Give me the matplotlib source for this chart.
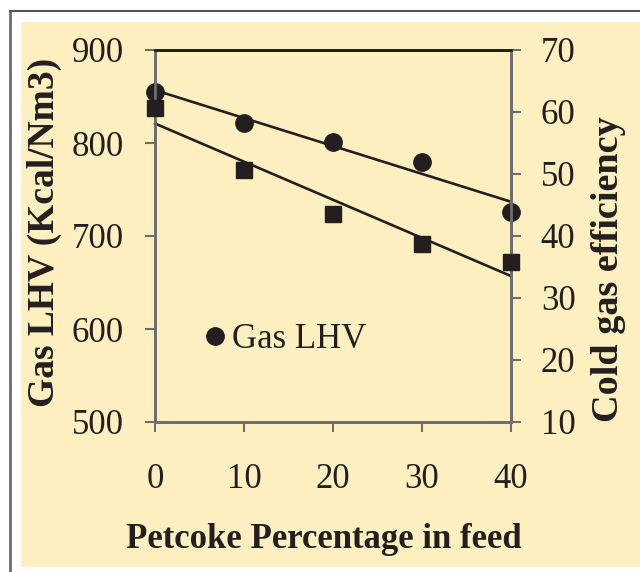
import matplotlib.pyplot as plt
from matplotlib.patches import Rectangle
from matplotlib.lines import Line2D
import numpy as np

# data
petcoke = [0, 10, 20, 30, 40]
gas_lhv = [855, 822, 801, 780, 726]          # Kcal/Nm3, left axis
cold_gas_eff = [60.6, 50.6, 43.5, 38.7, 35.8]  # right axis

x_ticks = [0, 10, 20, 30, 40]
lhv_ticks = [500, 600, 700, 800, 900]
eff_ticks = [10, 20, 30, 40, 50, 60, 70]

ink = "#231f20"
grey = "#6d6e71"
panel = "#fdefbf"

plt.rcParams["font.family"] = ["Liberation Serif", "DejaVu Serif"]

W, H = 640, 572
fig = plt.figure(figsize=(W / 100, H / 100), dpi=100, facecolor="white")

# outer frame and yellow panel (pixel coords -> figure fraction)
fig.patches.append(Rectangle((21 / W, 1 - 567 / H), (W - 21) / W, (567 - 22) / H,
                             transform=fig.transFigure, facecolor=panel,
                             edgecolor="none", zorder=-5))
fig.add_artist(Line2D([9.5 / W, 9.5 / W], [0, 1 - 11 / H], transform=fig.transFigure,
                      color=grey, lw=2, zorder=-5))
fig.add_artist(Line2D([9.5 / W, 1], [1 - 11 / H, 1 - 11 / H], transform=fig.transFigure,
                      color="#555555", lw=1.5, zorder=-5))

ax = fig.add_axes([155 / W, 1 - 422 / H, (511 - 155) / W, (422 - 50) / H])
ax.set_facecolor("none")
ax2 = ax.twinx()
ax2.set_facecolor("none")

# trend lines (least squares)
xl = np.array([petcoke[0], petcoke[-1]])
p1 = np.polyfit(petcoke, gas_lhv, 1)
p2 = np.polyfit(petcoke, cold_gas_eff, 1)
ax.plot(xl, np.polyval(p1, xl), color=ink, lw=1.9, clip_on=False)
ax2.plot(xl, np.polyval(p2, xl), color=ink, lw=1.9, clip_on=False)

ax.plot(petcoke, gas_lhv, "o", color=ink, ms=12.5, clip_on=False, zorder=5)
ax2.plot(petcoke, cold_gas_eff, "s", color=ink, ms=11.5, clip_on=False, zorder=5)

ax.set_xlim(0, 40)
ax.set_ylim(500, 900)
ax2.set_ylim(10, 70)
ax.set_xticks(x_ticks)
ax.set_yticks(lhv_ticks)
ax2.set_yticks(eff_ticks)

for a in (ax, ax2):
    for s in a.spines.values():
        s.set_color(grey)
        s.set_linewidth(2)
    a.spines["top"].set_color(ink)
ax.tick_params(axis="both", direction="out", length=7.5, width=1.5, color=grey,
               labelsize=25, labelcolor=ink)
ax.tick_params(axis="y", pad=15)
ax.tick_params(axis="x", pad=22)
ax2.tick_params(axis="y", direction="out", length=7.5, width=1.5, color=grey,
                labelsize=25, labelcolor=ink, pad=14)

ax.set_xlabel("Petcoke Percentage in feed", fontsize=25, fontweight="bold",
              color=ink, va="center")
ax.xaxis.set_label_coords(0.473, -0.317)
ax.set_ylabel("Gas LHV (Kcal/Nm3)", fontsize=27, fontweight="bold", color=ink,
              va="center")
ax.yaxis.set_label_coords(-0.31, 0.51)
ax2.set_ylabel("Cold gas efficiency", fontsize=27.5, fontweight="bold", color=ink,
               va="center", rotation=90)
ax2.yaxis.set_label_coords(1.275, 0.41)

handle = Line2D([], [], marker="o", ls="none", color=ink, ms=12.5)
leg = ax.legend([handle], ["Gas LHV"], loc="center left", bbox_to_anchor=(0.139, 0.222),
                frameon=False, fontsize=25, handlelength=0.6, handletextpad=0.2,
                borderpad=0, borderaxespad=0, labelcolor=ink)

fig.savefig("out.png", dpi=100, facecolor="white")
